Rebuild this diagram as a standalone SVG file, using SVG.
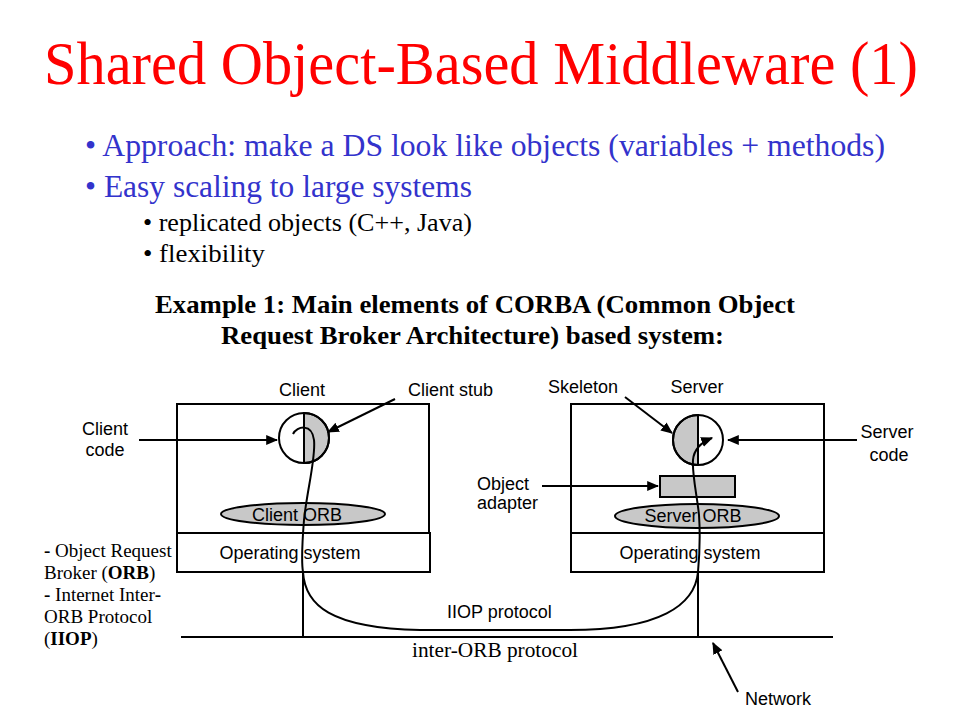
<svg xmlns="http://www.w3.org/2000/svg" width="960" height="720" viewBox="0 0 960 720">
<defs>
<style>
.ser{font-family:"Liberation Serif","Times New Roman",serif}
.sans{font-family:"Liberation Sans",Arial,sans-serif;font-size:18px;fill:#000}
.box{fill:none;stroke:#000;stroke-width:2}
.ln{fill:none;stroke:#000;stroke-width:2}
.shade{fill:#c8c8c8;stroke:#000;stroke-width:2}
.arr{fill:none;stroke:#000;stroke-width:2;marker-end:url(#ah)}
</style>
<marker id="ah" viewBox="0 0 10 10" refX="9" refY="5" markerWidth="6" markerHeight="6" orient="auto" markerUnits="strokeWidth">
<path d="M0,0.8 L10,5 L0,9.2 z" fill="#000"/>
</marker>
</defs>
<rect width="960" height="720" fill="#fff"/>

<g id="title">
<text class="ser" x="44" y="84" font-size="61" fill="#ff0000" textLength="874" lengthAdjust="spacingAndGlyphs">Shared Object-Based Middleware (1)</text>
</g>

<g id="bullets" class="ser">
<text x="85" y="156" font-size="31" fill="#3333cc" textLength="800" lengthAdjust="spacingAndGlyphs">• Approach: make a DS look like objects (variables + methods)</text>
<text x="85" y="197" font-size="31" fill="#3333cc" textLength="387" lengthAdjust="spacingAndGlyphs">• Easy scaling to large systems</text>
<text x="143" y="231" font-size="26" fill="#000" textLength="329" lengthAdjust="spacingAndGlyphs">• replicated objects (C++, Java)</text>
<text x="143" y="262" font-size="26" fill="#000" textLength="122" lengthAdjust="spacingAndGlyphs">• flexibility</text>
</g>

<g id="heading" class="ser" font-weight="bold" font-size="26" fill="#000">
<text x="155" y="313" textLength="640" lengthAdjust="spacingAndGlyphs">Example 1: Main elements of CORBA (Common Object</text>
<text x="221" y="344" textLength="503" lengthAdjust="spacingAndGlyphs">Request Broker Architecture) based system:</text>
</g>

<g id="legend" class="ser" font-size="19" fill="#000">
<text x="44" y="557"><tspan font-weight="bold">-</tspan> Object Request</text>
<text x="44" y="579">Broker (<tspan font-weight="bold">ORB</tspan>)</text>
<text x="44" y="601"><tspan font-weight="bold">-</tspan> Internet Inter<tspan font-weight="bold">-</tspan></text>
<text x="44" y="623">ORB Protocol</text>
<text x="44" y="645">(<tspan font-weight="bold">IIOP</tspan>)</text>
</g>

<g id="client">
<rect class="box" x="177" y="404" width="252" height="129"/>
<text class="sans" x="302" y="396" text-anchor="middle">Client</text>
<g id="client-stub">
<path class="shade" d="M304,413 A25,25 0 0 1 304,463 Z"/>
<circle cx="304" cy="438" r="25" fill="none" stroke="#000" stroke-width="2"/>
<line class="ln" x1="304" y1="413" x2="304" y2="463"/>
</g>
<ellipse class="shade" cx="303" cy="514" rx="82" ry="11"/>
<text class="sans" x="297" y="521" text-anchor="middle">Client ORB</text>
</g>

<g id="client-os">
<rect class="box" x="177" y="533" width="253" height="39"/>
<text class="sans" x="290" y="559" text-anchor="middle">Operating system</text>
</g>

<g id="server">
<rect class="box" x="571" y="404" width="253" height="129"/>
<text class="sans" x="697" y="393" text-anchor="middle">Server</text>
<g id="skeleton">
<path class="shade" d="M698,415 A25,25 0 0 0 698,465 Z"/>
<circle cx="698" cy="440" r="25" fill="none" stroke="#000" stroke-width="2"/>
<line class="ln" x1="698" y1="415" x2="698" y2="465"/>
</g>
<rect class="shade" x="660" y="476" width="75" height="21"/>
<ellipse class="shade" cx="697" cy="516" rx="82" ry="12"/>
<text class="sans" x="693" y="522" text-anchor="middle">Server ORB</text>
</g>

<g id="server-os">
<rect class="box" x="571" y="533" width="253" height="39"/>
<text class="sans" x="690" y="559" text-anchor="middle">Operating system</text>
</g>

<g id="network">
<line class="ln" x1="181" y1="637" x2="833" y2="637"/>
<line class="ln" x1="303" y1="572" x2="303" y2="637"/>
<line class="ln" x1="698" y1="572" x2="698" y2="637"/>
</g>

<g id="labels">
<text class="sans" x="105" y="435" text-anchor="middle">Client</text>
<text class="sans" x="105" y="456" text-anchor="middle">code</text>
<text class="sans" x="408" y="396">Client stub</text>
<text class="sans" x="548" y="393">Skeleton</text>
<text class="sans" x="887" y="438" text-anchor="middle">Server</text>
<text class="sans" x="889" y="461" text-anchor="middle">code</text>
<text class="sans" x="477" y="490">Object</text>
<text class="sans" x="477" y="509">adapter</text>
<text class="sans" x="447" y="618">IIOP protocol</text>
<text class="sans" x="745" y="705">Network</text>
<text class="ser" x="412" y="657" font-size="21" textLength="166" lengthAdjust="spacingAndGlyphs">inter-ORB protocol</text>
</g>

<g id="connectors">
<line class="arr" x1="139" y1="440" x2="277" y2="440"/>
<line class="arr" x1="395" y1="399" x2="328" y2="432"/>
<line class="arr" x1="625" y1="397" x2="672" y2="433"/>
<line class="arr" x1="857" y1="440" x2="728" y2="440"/>
<line class="arr" x1="542" y1="486" x2="658" y2="486"/>
<line class="arr" x1="738" y1="692" x2="713" y2="643"/>
<path class="arr" d="M293,434 C297,426 312,423 314,440 C316,458 307,490 304,520 C302,545 301,560 303,572 C305,605 330,628 420,630 L570,630 C660,630 695,605 698,572 C700,550 700,530 699,515 C697,495 692,475 693,460 C694,448 702,442 712,438"/>
</g>
</svg>
